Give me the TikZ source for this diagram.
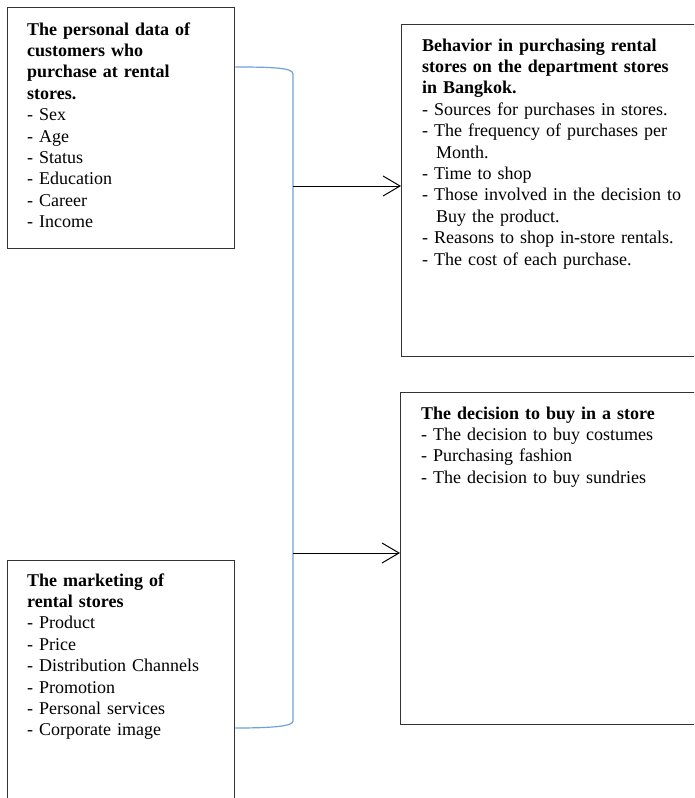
\documentclass[tikz,border=0pt]{standalone}
\usepackage{fontspec}
\setmainfont{Liberation Serif}
\usetikzlibrary{arrows.meta}
\definecolor{bracketblue}{RGB}{112,162,218}
\begin{document}
\begin{tikzpicture}[x=1pt,y=-1pt,
  box/.style={draw=black!80, line width=1.3pt, anchor=north west, inner sep=0pt},
  txt/.style={anchor=base west, inner sep=0pt, align=left, text width=280pt,
              font=\fontsize{18}{21.4}\selectfont},
  arr/.style={-{Straight Barb[length=17pt,width=20pt,line width=1pt]}, line width=1pt, black},
  brk/.style={draw=bracketblue, line width=1.2pt}]
\useasboundingbox (0,0) rectangle (694,798);
\clip (0,0) rectangle (694,798);
\fill[white] (0,0) rectangle (694,798);
% boxes
\node[box, minimum width=227pt, minimum height=241pt] (pers) at (7,7) {};
\node[box, minimum width=300pt, minimum height=332pt] (behav) at (401,24) {};
\node[box, minimum width=300pt, minimum height=332pt] (decis) at (400,392) {};
\node[box, minimum width=227pt, minimum height=270pt] (mark) at (7,560) {};
% texts
\node[txt] (perstxt) at (27,35) {\textbf{The personal data of}\\\textbf{customers who}\\\textbf{purchase at rental}\\\textbf{stores.}\\- Sex\\- Age\\- Status\\- Education\\- Career\\- Income};
\node[txt] (behavtxt) at (422,51) {\textbf{Behavior in purchasing rental}\\\textbf{stores on the department stores}\\\textbf{in Bangkok.}\\- Sources for purchases in stores.\\- The frequency of purchases per\\\hspace*{14pt}Month.\\- Time to shop\\- Those involved in the decision to\\\hspace*{14pt}Buy the product.\\- Reasons to shop in-store rentals.\\- The cost of each purchase.};
\node[txt] (decistxt) at (421,419) {\textbf{The decision to buy in a store}\\- The decision to buy costumes\\- Purchasing fashion\\- The decision to buy sundries};
\node[txt] (marktxt) at (27,586) {\textbf{The marketing of}\\\textbf{rental stores}\\- Product\\- Price\\- Distribution Channels\\- Promotion\\- Personal services\\- Corporate image};
% bracket
\coordinate (bs) at (pers.east |- 0,67);
\coordinate (be) at (mark.east |- 0,728);
\coordinate (b1) at (293,186);
\coordinate (b2) at (293,553);
\draw[brk] (bs) .. controls (275,67) and (293,68) .. (293,74) -- (293,721) .. controls (293,726) and (275,728) .. (be);
% arrows
\draw[arr] (b1) -- (b1 -| behav.west);
\draw[arr] (b2) -- (b2 -| decis.west);
\end{tikzpicture}
\end{document}
